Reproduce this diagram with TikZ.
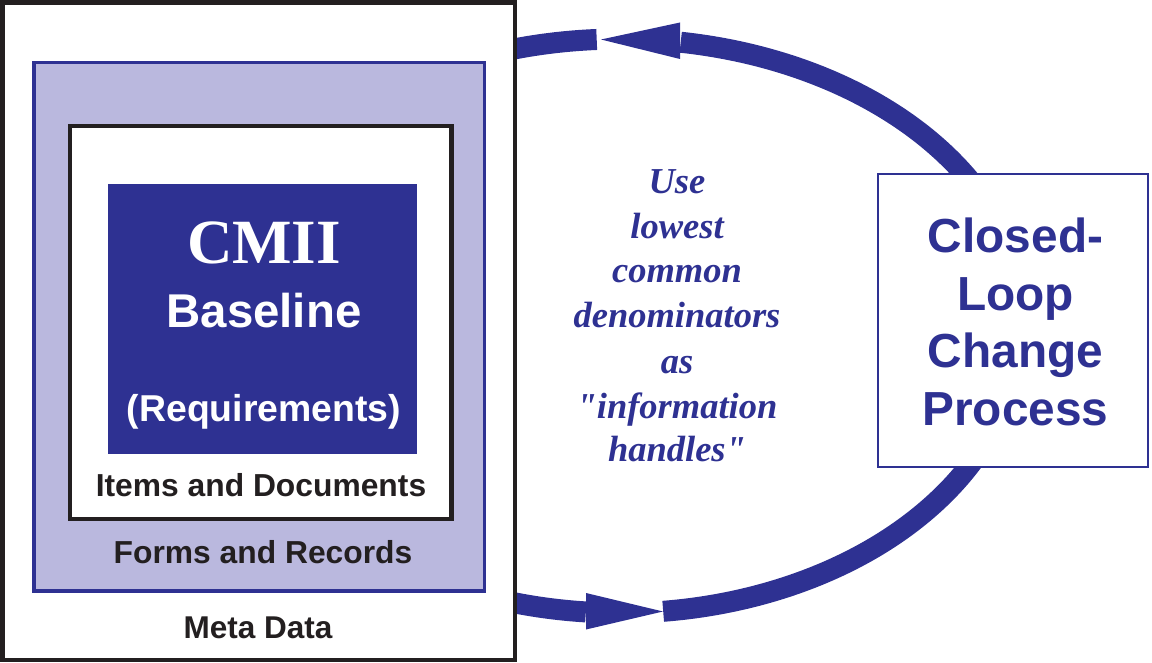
\documentclass[tikz,border=0pt]{standalone}
\usepackage{fontspec}
\setmainfont{Liberation Sans}
\newfontfamily\serifb{Liberation Serif}
\definecolor{cmblue}{HTML}{2E3192}
\definecolor{lav}{HTML}{BAB8DE}
\definecolor{ink}{HTML}{231F20}
\tikzset{
  loopline/.style={cmblue, line width=21pt},
  head/.style={fill=cmblue},
  lbl/.style={inner sep=0pt, anchor=base},
  sansb/.style={lbl, font=\fontsize{#1}{#1}\selectfont\bfseries},
  midtxt/.style={lbl, text=cmblue, font=\fontsize{36.5}{36.5}\selectfont\serifb\bfseries\itshape},
}
\begin{document}
\begin{tikzpicture}[x=1pt,y=-1pt]
\useasboundingbox (0,0) rectangle (1152,663);
% loop arcs
\draw[loopline] plot[domain=93.3:112, samples=30, smooth] ({620+405*cos(\x)},{326-287*sin(\x)});
\draw[loopline] plot[domain=-2:81.4, samples=90, smooth] ({620+406*cos(\x)},{326-287*sin(\x)});
\draw[loopline] plot[domain=-83.8:2, samples=90, smooth] ({620+400*cos(\x)},{326-287*sin(\x)});
\draw[loopline] plot[domain=-112:-94.9, samples=30, smooth] ({620+400*cos(\x)},{326-287*sin(\x)});
% arrow heads
\coordinate (ttip) at (601,39.5);
\coordinate (tb1) at (680,22.5);
\coordinate (tb2) at (680,59);
\coordinate (btip) at (663,611.5);
\coordinate (bb1) at (586,593);
\coordinate (bb2) at (586,629.5);
\fill[head] (ttip) -- (tb1) -- (tb2) -- cycle;
\fill[head] (btip) -- (bb1) -- (bb2) -- cycle;
% left nested boxes
\draw[ink, line width=4.5pt, fill=white] (2.5,2.5) rectangle (515,660);
\draw[cmblue, line width=3.5pt, fill=lav] (34,62.5) rectangle (484.5,591);
\draw[ink, line width=4.5pt, fill=white] (70,125.8) rectangle (451.7,519);
\fill[cmblue] (108,184) rectangle (417,454);
% right box
\draw[cmblue, line width=2.5pt, fill=white] (878,174) rectangle (1148,467);
% texts left
\node[lbl, text=white, font=\fontsize{63}{63}\selectfont\serifb\bfseries] (cmii) at (264,264) {CMII};
\node[sansb=47.4, text=white] (base) at (264,327) {Baseline};
\node[sansb=37.4, text=white] (req) at (264,421.5) {(Requirements)};
\node[sansb=31.8, text=ink] (items) at (261,496) {Items and Documents};
\node[sansb=31.8, text=ink] (forms) at (263,563.5) {Forms and Records};
\node[sansb=31.5, text=ink] (meta) at (258,638.5) {Meta Data};
% right box text
\node[sansb=47.8, text=cmblue] (c1) at (1015.5,253) {Closed-};
\node[sansb=47.8, text=cmblue] (c2) at (1015.5,310) {Loop};
\node[sansb=47.8, text=cmblue] (c3) at (1015.5,367) {Change};
\node[sansb=47.8, text=cmblue] (c4) at (1015.5,425) {Process};
% middle text
\node[midtxt] (m1) at (677,194) {Use};
\node[midtxt] (m2) at (677,239) {lowest};
\node[midtxt] (m3) at (677,283) {common};
\node[midtxt] (m4) at (677,327) {denominators};
\node[midtxt] (m5) at (677,373) {as};
\node[midtxt] (m6) at (677,418) {"information};
\node[midtxt] (m7) at (677,461) {handles"};
\end{tikzpicture}
\end{document}
